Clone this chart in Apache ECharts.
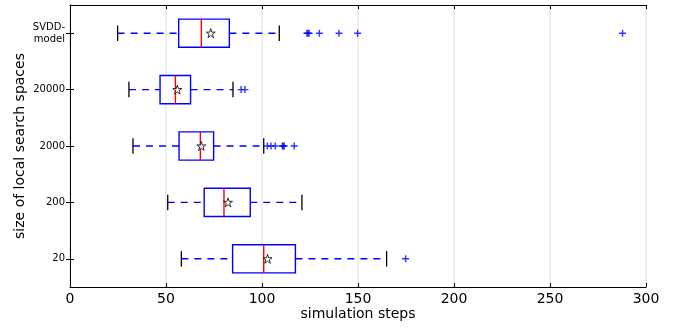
<!DOCTYPE html>
<html>
<head>
<meta charset="utf-8">
<script src="https://cdn.jsdelivr.net/npm/echarts@6/dist/echarts.min.js"></script>
<style>
  html, body { margin: 0; padding: 0; background: #fff; }
  #chart { width: 684px; height: 329px; }
</style>
</head>
<body>
<div id="chart"></div>
<script>
// categories from bottom to top
const categories = ["20", "200", "2000", "20000", "SVDD-\nmodel"]
const whiskerLow = [58.0, 50.9, 32.8, 30.7, 24.8]
const q1 = [84.7, 69.9, 56.8, 46.9, 56.6]
const median = [100.9, 80.2, 67.9, 54.9, 68.4]
const q3 = [117.4, 93.9, 74.8, 62.8, 83.0]
const whiskerHigh = [164.9, 120.8, 100.9, 84.9, 109.0]
const means = [102.9, 82.3, 68.4, 55.9, 73.3]
const outliers = [
  [174.8],
  [],
  [102.8, 104.7, 106.9, 110.6, 111.0, 111.6, 116.8],
  [89.1, 91.1],
  [123.4, 124.0, 124.5, 129.9, 140.1, 149.8, 287.8]
]
const xTicks = [0, 300, 50]

const FONT = "DejaVu Sans"
const BLUE = "#0000ff"

const boxData = categories.map((c, i) => [i, whiskerLow[i], q1[i], median[i], q3[i], whiskerHigh[i]])
const meanData = categories.map((c, i) => [means[i], i])
const outlierData = []
outliers.forEach((list, i) => list.forEach(v => outlierData.push([v, i])))

function renderBox(params, api) {
  const cat = api.value(0)
  const lo = api.coord([api.value(1), cat])
  const a = api.coord([api.value(2), cat])
  const m = api.coord([api.value(3), cat])
  const b = api.coord([api.value(4), cat])
  const hi = api.coord([api.value(5), cat])
  const h = api.size([0, 1])[1] * 0.5
  const capH = h * 0.55
  const y = a[1]
  const dash = { stroke: BLUE, lineWidth: 1.4, lineDash: [7, 6] }
  return {
    type: "group",
    children: [
      { type: "line", shape: { x1: lo[0], y1: y, x2: a[0], y2: y }, style: dash },
      { type: "line", shape: { x1: b[0], y1: y, x2: hi[0], y2: y }, style: dash },
      { type: "line", shape: { x1: lo[0], y1: y - capH / 2, x2: lo[0], y2: y + capH / 2 }, style: { stroke: "#000", lineWidth: 1.3 } },
      { type: "line", shape: { x1: hi[0], y1: y - capH / 2, x2: hi[0], y2: y + capH / 2 }, style: { stroke: "#000", lineWidth: 1.3 } },
      { type: "rect", shape: { x: a[0], y: y - h / 2, width: b[0] - a[0], height: h }, style: { fill: "#fff", stroke: BLUE, lineWidth: 1.4 } },
      { type: "line", shape: { x1: m[0], y1: y - h / 2, x2: m[0], y2: y + h / 2 }, style: { stroke: "#ff0000", lineWidth: 1.4 } }
    ]
  }
}

const chart = echarts.init(document.getElementById("chart"), null, { renderer: "canvas" })

const axisLine = { show: true, lineStyle: { color: "#000", width: 1 } }
const tickIn = { show: true, inside: true, length: 4, lineStyle: { color: "#000" } }

const option = {
  animation: false,
  textStyle: { fontFamily: FONT },
  grid: { left: 70, right: 38, top: 5, bottom: 42 },
  xAxis: [
    {
      type: "value",
      position: "bottom",
      min: xTicks[0],
      max: xTicks[1],
      interval: xTicks[2],
      axisLine: axisLine,
      axisTick: tickIn,
      axisLabel: { color: "#000", fontSize: 14, fontFamily: FONT, margin: 5 },
      splitLine: { show: true, lineStyle: { color: "#e8e8e8", width: 1.5 } },
      name: "simulation steps",
      nameLocation: "middle",
      nameGap: 20,
      nameMoveOverlap: false,
      nameTextStyle: { color: "#000", fontSize: 14, fontFamily: FONT }
    },
    {
      type: "value",
      position: "top",
      min: xTicks[0],
      max: xTicks[1],
      interval: xTicks[2],
      axisLine: axisLine,
      axisTick: tickIn,
      axisLabel: { show: false },
      splitLine: { show: false }
    }
  ],
  yAxis: [
    {
      type: "category",
      position: "left",
      data: categories,
      boundaryGap: true,
      axisLine: axisLine,
      axisTick: { show: true, inside: true, length: 4, alignWithLabel: true, lineStyle: { color: "#000" } },
      axisLabel: { color: "#000", fontSize: 10, fontFamily: FONT, margin: 5, lineHeight: 12, align: "right" },
      name: "size of local search spaces",
      nameLocation: "middle",
      nameGap: 43,
      nameMoveOverlap: false,
      nameRotate: 90,
      nameTextStyle: { color: "#000", fontSize: 14, fontFamily: FONT }
    },
    {
      type: "category",
      position: "right",
      data: categories,
      boundaryGap: true,
      axisLine: axisLine,
      axisTick: { show: true, inside: true, length: 4, alignWithLabel: true, lineStyle: { color: "#000" } },
      axisLabel: { show: false }
    }
  ],
  series: [
    {
      type: "custom",
      renderItem: renderBox,
      encode: { x: [1, 2, 3, 4, 5], y: 0 },
      data: boxData,
      z: 2
    },
    {
      type: "scatter",
      data: outlierData,
      symbol: "path://M0,-1L0,1M-1,0L1,0",
      symbolSize: 7,
      itemStyle: { color: "none", borderColor: BLUE, borderWidth: 1.4 },
      z: 3
    },
    {
      type: "scatter",
      data: meanData,
      symbol: "path://M0,-1L0.2245,-0.309L0.951,-0.309L0.363,0.118L0.588,0.809L0,0.382L-0.588,0.809L-0.363,0.118L-0.951,-0.309L-0.2245,-0.309Z",
      symbolSize: 9,
      itemStyle: { color: "#fff", borderColor: "#000", borderWidth: 1 },
      z: 4
    }
  ]
}

chart.setOption(option)
</script>
</body>
</html>
